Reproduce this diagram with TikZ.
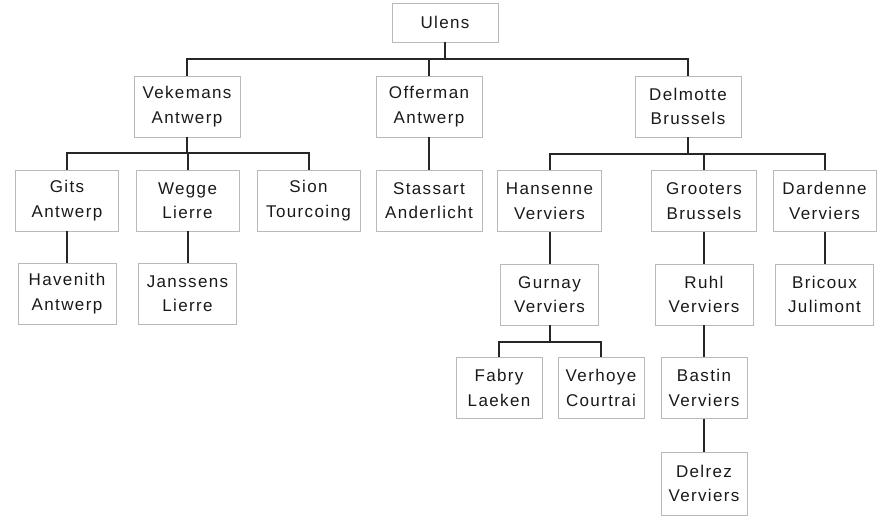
\documentclass[tikz,border=0pt]{standalone}
\usepackage{fontspec}
\newfontfamily\boxfont{Liberation Sans}[LetterSpace=8]
\usetikzlibrary{positioning}

\begin{document}
\begin{tikzpicture}[
    x=1pt, y=-1pt,
    person/.style={draw=gray!55, line width=0.8pt, rectangle, minimum height=61pt, inner sep=1pt, align=center, font=\boxfont\fontsize{17}{24.5}\selectfont, text=black!90},
    wide/.style={person, minimum width=106pt},
    mid/.style={person, minimum width=98pt},
    narrow/.style={person, minimum width=86pt},
    link/.style={draw=black!85, line width=2pt}
]
\useasboundingbox (0,0) rectangle (882,515);

% Nodes
\node (ulens) [wide, minimum height=39pt] at (445,22.5) {Ulens};

\node (vekemans) [wide] at (187,106.5) {Vekemans\\Antwerp};
\node (offerman) [wide] at (429,106.5) {Offerman\\Antwerp};
\node (delmotte) [wide] at (688,106.5) {Delmotte\\Brussels};

\node (gits) [wide, minimum width=103pt] at (67,200.5) {Gits\\Antwerp};
\node (wegge) [wide, minimum width=103pt] at (187.5,200.5) {Wegge\\Lierre};
\node (sion) [wide, minimum width=103pt] at (308.5,200.5) {Sion\\Tourcoing};
\node (stassart) [wide] at (429,200.5) {Stassart\\Anderlicht};
\node (hansenne) [wide, minimum width=104pt] at (549.5,201) {Hansenne\\Verviers};
\node (grooters) [wide, minimum width=105pt] at (704,201) {Grooters\\Brussels};
\node (dardenne) [wide, minimum width=103pt] at (824.5,201) {Dardenne\\Verviers};

\node (havenith) [mid] at (67,293.5) {Havenith\\Antwerp};
\node (janssens) [mid] at (187.5,293.5) {Janssens\\Lierre};
\node (gurnay) [mid] at (549.5,294.5) {Gurnay\\Verviers};
\node (ruhl) [mid] at (704,294.5) {Ruhl\\Verviers};
\node (bricoux) [mid] at (824.5,294.5) {Bricoux\\Julimont};

\node (fabry) [narrow] at (499,388) {Fabry\\Laeken};
\node (verhoye) [narrow] at (601,388) {Verhoye\\Courtrai};
\node (bastin) [narrow] at (704,388) {Bastin\\Verviers};
\node (delrez) [narrow, minimum height=63pt] at (704,483.5) {Delrez\\Verviers};

% Connections
\foreach \kid in {vekemans, offerman, delmotte}
    \draw [link] (ulens.south) -- ++(0,17) -| (\kid.north);
\foreach \kid in {gits, wegge, sion}
    \draw [link] (vekemans.south) -- ++(0,16) -| (\kid.north);
\foreach \kid in {hansenne, grooters, dardenne}
    \draw [link] (delmotte.south) -- ++(0,17) -| (\kid.north);
\foreach \kid in {fabry, verhoye}
    \draw [link] (gurnay.south) -- ++(0,17) -| (\kid.north);

\draw [link] (offerman) -- (stassart);
\draw [link] (gits) -- (havenith);
\draw [link] (wegge) -- (janssens);
\draw [link] (hansenne) -- (gurnay);
\draw [link] (grooters) -- (ruhl);
\draw [link] (dardenne) -- (bricoux);
\draw [link] (ruhl) -- (bastin);
\draw [link] (bastin) -- (delrez);

\end{tikzpicture}
\end{document}
